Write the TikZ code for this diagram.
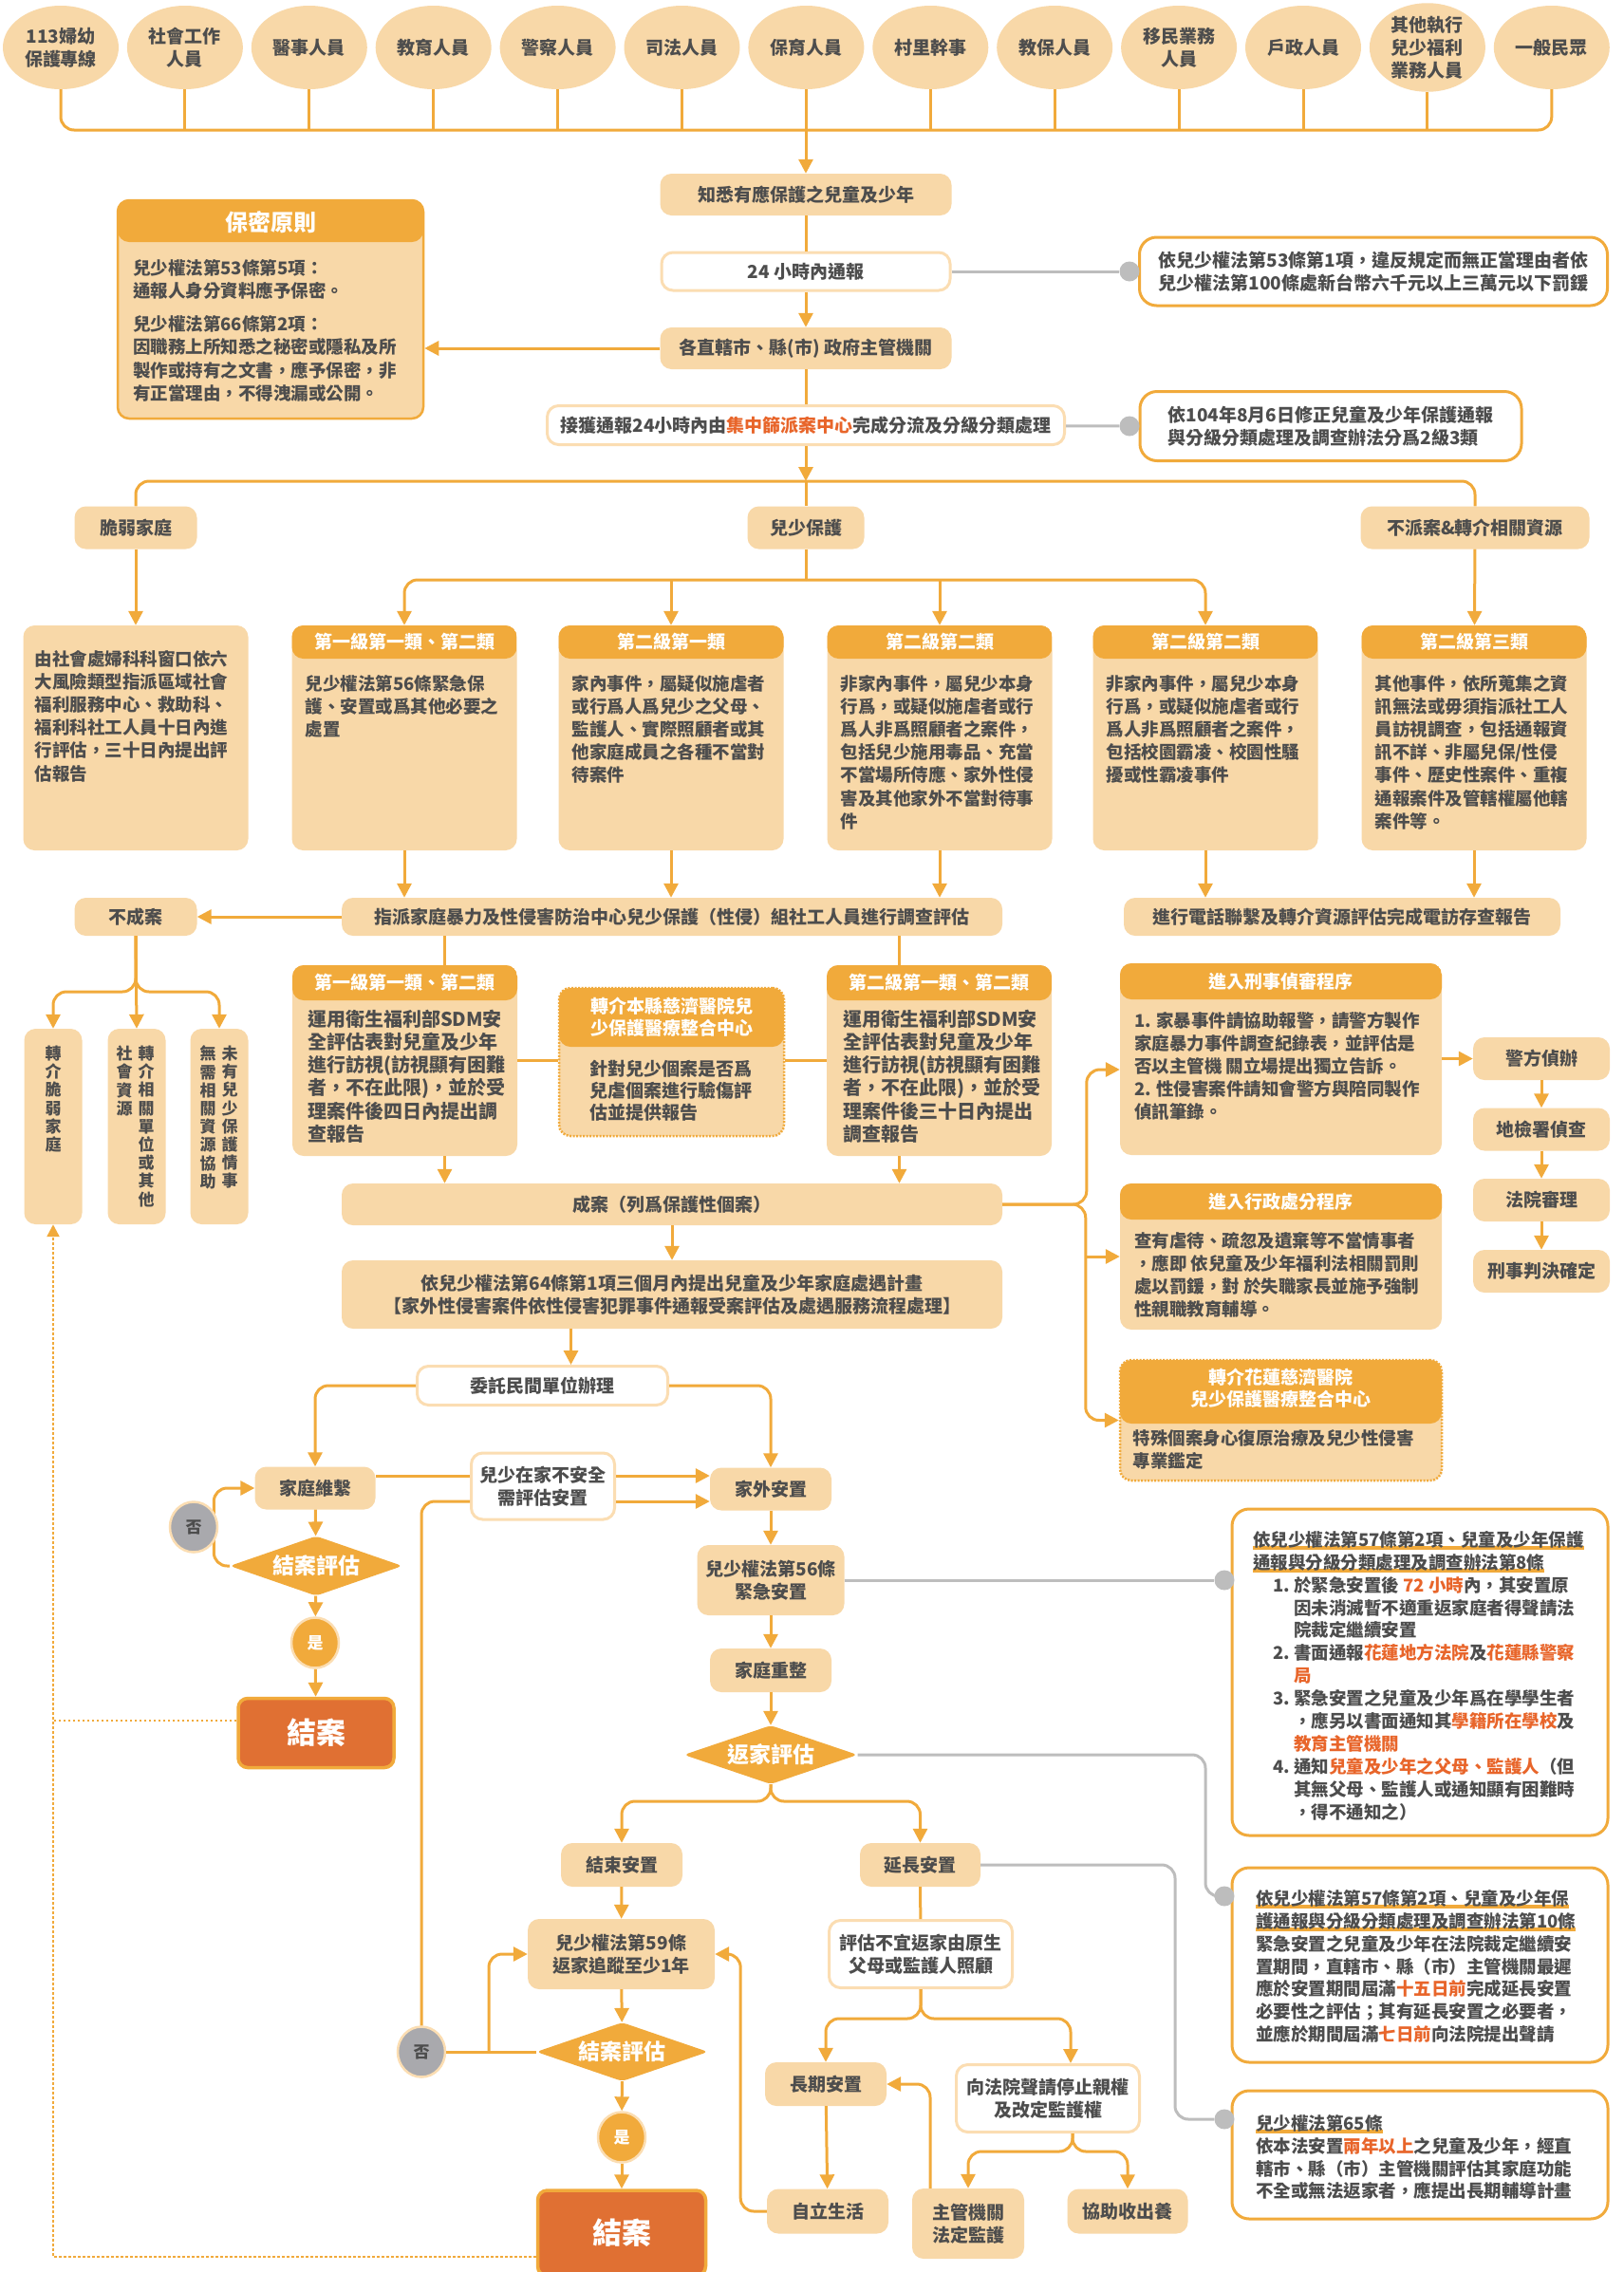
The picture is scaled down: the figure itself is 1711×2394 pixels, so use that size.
\documentclass[tikz,border=0pt]{standalone}
\usepackage{fontspec}
\setmainfont{Noto Sans CJK TC}
\usetikzlibrary{arrows.meta,shapes.geometric,positioning}

% Colores
\definecolor{melocoton}{HTML}{F8D8A8}
\definecolor{naranja}{HTML}{F1AA3B}
\definecolor{texto}{HTML}{4D4D4D}
\definecolor{rojo}{HTML}{E8652A}
\definecolor{cierre}{HTML}{E07033}
\definecolor{gris}{HTML}{BDBDBD}
\definecolor{grisosc}{HTML}{A9A9AD}
\definecolor{borde}{HTML}{FBDDB2}

% Fuentes
\newcommand{\fcaja}{\fontsize{19}{24}\selectfont\bfseries}
\newcommand{\fcuerpo}{\fontsize{18.5}{24.2}\selectfont\bfseries}
\newcommand{\fmedio}{\fontsize{20}{24.2}\selectfont\bfseries}
\newcommand{\fley}{\fontsize{18.5}{23.9}\selectfont\bfseries}
\newcommand{\fvert}{\fontsize{17}{19.2}\selectfont\bfseries}
\newcommand{\frombo}{\fontsize{23}{26}\selectfont\bfseries}
\newcommand{\ffin}{\fontsize{31}{34}\selectfont\bfseries}
\newcommand{\fsino}{\fontsize{17}{20}\selectfont\bfseries}
\newcommand{\ftitulo}{\fontsize{24}{28}\selectfont\bfseries}

% Resaltado y subrayado
\newcommand{\rj}[1]{\textcolor{rojo}{#1}}
\newcommand{\subr}[1]{\setbox0\hbox{#1}\rlap{\textcolor{naranja}{\rule[-4pt]{\wd0}{4pt}}}\box0}

\begin{document}
\begin{tikzpicture}[x=1pt, y=-1pt,
  conn/.style={draw=naranja, line width=3pt, rounded corners=14pt},
  flecha/.style={conn, -{Triangle[length=15pt,width=15pt]}},
  gconn/.style={draw=gris, line width=3pt, rounded corners=14pt},
  punteado/.style={draw=naranja, line width=2.5pt, dash pattern=on 2.5pt off 2.5pt},
  caja/.style={rectangle, rounded corners=12pt, fill=melocoton, text=texto, font=\fcaja, align=center, inner sep=0pt},
  blanca/.style={caja, fill=white, draw=borde, line width=3pt},
  cabeza/.style={caja, path picture={\fill[naranja] (path picture bounding box.north west) rectangle ([yshift=-#1]path picture bounding box.north east);}},
  marco/.style={draw=naranja, line width=2.5pt, dash pattern=on 2pt off 1.5pt},
  circulo/.style={ellipse, fill=melocoton, text=texto, font=\fcaja, align=center, inner sep=0pt, minimum width=122pt, minimum height=88pt},
  rombo/.style={diamond, shape aspect=2.9, fill=naranja, text=white, font=\frombo, inner sep=0pt, rounded corners=5pt},
  sicirc/.style={ellipse, fill=naranja, draw=borde, line width=2.5pt, text=white, font=\fsino, minimum width=50pt, minimum height=53pt, inner sep=0pt},
  nocirc/.style={sicirc, fill=grisosc, text=texto},
  cierrecaja/.style={rectangle, rounded corners=10pt, fill=cierre, draw=naranja, line width=3.5pt, text=white, font=\ffin},
  ley/.style={rectangle, rounded corners=18pt, draw=naranja, line width=3pt, fill=white},
  punto/.style={circle, fill=gris, minimum size=21pt, inner sep=0pt},
  tcab/.style={text=white, font=\fcaja, inner sep=0pt, align=center},
  tcuerpo/.style={text=texto, font=\fcuerpo, inner sep=0pt, align=left, anchor=north west},
  tley/.style={text=texto, font=\fley, inner sep=0pt, align=left, anchor=north west},
  tvert/.style={text=texto, font=\fvert, inner sep=0pt, align=center, anchor=north}]

  % Fondo
  \useasboundingbox (0,0) rectangle (1711,2394);
  \fill[white] (0,0) rectangle (1711,2394);

  % Notificadores
  \foreach \t [count=\i] in {{113婦幼\\保護專線},{社會工作\\人員},醫事人員,教育人員,警察人員,司法人員,保育人員,村里幹事,教保人員,{移民業務\\人員},戶政人員,{其他執行\\兒少福利\\業務人員},一般民眾}
    \node[circulo] (p\i) at ({64+130.9*(\i-1)},50) {\t};
  \coordinate (bus) at (849,137);
  \draw[conn] (p1.south) |- (bus) -| (p13.south);
  \foreach \i in {2,...,12}
    \draw[conn] (p\i.south) -- (p\i.south |- bus);

  % Flujo principal
  \node[caja, minimum width=307pt, minimum height=44pt] (n1) at (849,205) {知悉有應保護之兒童及少年};
  \node[blanca, minimum width=304pt, minimum height=40pt] (n2) at (849,286) {24 小時內通報};
  \node[caja, minimum width=307pt, minimum height=44pt] (n3) at (849,367) {各直轄市、縣(市) 政府主管機關};
  \node[blanca, minimum width=545pt, minimum height=41pt] (n4) at (849,448) {接獲通報24小時內由\rj{集中篩派案中心}完成分流及分級分類處理};
  \draw[flecha] (bus) -- (n1);
  \draw[conn] (n1) -- (n2);
  \draw[flecha] (n2) -- (n3);
  \draw[conn] (n3) -- (n4);

  % Confidencialidad
  \node[cabeza=44pt, draw=naranja, line width=2.5pt, minimum width=322pt, minimum height=230pt] (sec) at (285,326) {};
  \node[tcab, font=\ftitulo] (sech) at (285,234) {保密原則};
  \node[tcuerpo] (secb) at (140,273) {兒少權法第53條第5項：\\通報人身分資料應予保密。\\[11pt]兒少權法第66條第2項：\\因職務上所知悉之秘密或隱私及所\\製作或持有之文書，應予保密，非\\有正當理由，不得洩漏或公開。};
  \draw[flecha] (n3.west) -- (n3.west -| sec.east);

  % Normas de arriba
  \node[ley, minimum width=493pt, minimum height=72pt, font=\fcaja, text=texto, align=left] (l1) at (1447,286) {依兒少權法第53條第1項，違反規定而無正當理由者依\\兒少權法第100條處新台幣六千元以上三萬元以下罰鍰};
  \node[ley, minimum width=402pt, minimum height=73pt, font=\fcaja, text=texto, align=left] (l2) at (1402,449) {依104年8月6日修正兒童及少年保護通報\\與分級分類處理及調查辦法分爲2級3類};
  \node[punto] (d1) at (1190,286) {};
  \node[punto] (d2) at (1190,449) {};
  \draw[gconn] (n2) -- (d1);
  \draw[gconn] (n4) -- (d2);

  % Ramas
  \coordinate (b2) at (849,507);
  \coordinate (b3) at (849,611);
  \node[caja, minimum width=129pt, minimum height=45pt] (r1) at (143,556) {脆弱家庭};
  \node[caja, minimum width=123pt, minimum height=45pt] (r2) at (849,556) {兒少保護};
  \node[caja, minimum width=241pt, minimum height=45pt] (r3) at (1554,556) {不派案\&轉介相關資源};
  \draw[flecha] (n4) -- (b2);
  \draw[conn] (r1.north) |- (b2) -| (r3.north);
  \draw[conn] (b2) -- (r2);
  \draw[conn] (r2) -- (b3);

  % Categorias
  \node[caja, minimum width=237pt, minimum height=237pt] (c0) at (143,777.5) {};
  \node[cabeza=35pt, minimum width=237pt, minimum height=237pt] (c1) at (426,777.5) {};
  \node[cabeza=35pt, minimum width=237pt, minimum height=237pt] (c2) at (707,777.5) {};
  \node[cabeza=35pt, minimum width=237pt, minimum height=237pt] (c3) at (990,777.5) {};
  \node[cabeza=35pt, minimum width=237pt, minimum height=237pt] (c4) at (1270,777.5) {};
  \node[cabeza=35pt, minimum width=237pt, minimum height=237pt] (c5) at (1553,777.5) {};
  \node[tcuerpo] (c0b) at ([xshift=12pt,yshift=-26pt]c0.north west) {由社會處婦科科窗口依六\\大風險類型指派區域社會\\福利服務中心、救助科、\\福利科社工人員十日內進\\行評估，三十日內提出評\\估報告};
  \node[tcab] (c1h) at ([yshift=-17.5pt]c1.north) {第一級第一類、第二類};
  \node[tcuerpo] (c1b) at ([xshift=14pt,yshift=-52pt]c1.north west) {兒少權法第56條緊急保\\護、安置或爲其他必要之\\處置};
  \node[tcab] (c2h) at ([yshift=-17.5pt]c2.north) {第二級第一類};
  \node[tcuerpo] (c2b) at ([xshift=14pt,yshift=-52pt]c2.north west) {家內事件，屬疑似施虐者\\或行爲人爲兒少之父母、\\監護人、實際照顧者或其\\他家庭成員之各種不當對\\待案件};
  \node[tcab] (c3h) at ([yshift=-17.5pt]c3.north) {第二級第二類};
  \node[tcuerpo] (c3b) at ([xshift=14pt,yshift=-52pt]c3.north west) {非家內事件，屬兒少本身\\行爲，或疑似施虐者或行\\爲人非爲照顧者之案件，\\包括兒少施用毒品、充當\\不當場所侍應、家外性侵\\害及其他家外不當對待事\\件};
  \node[tcab] (c4h) at ([yshift=-17.5pt]c4.north) {第二級第二類};
  \node[tcuerpo] (c4b) at ([xshift=14pt,yshift=-52pt]c4.north west) {非家內事件，屬兒少本身\\行爲，或疑似施虐者或行\\爲人非爲照顧者之案件，\\包括校園霸凌、校園性騷\\擾或性霸凌事件};
  \node[tcab] (c5h) at ([yshift=-17.5pt]c5.north) {第二級第三類};
  \node[tcuerpo] (c5b) at ([xshift=14pt,yshift=-52pt]c5.north west) {其他事件，依所蒐集之資\\訊無法或毋須指派社工人\\員訪視調查，包括通報資\\訊不詳、非屬兒保/性侵\\事件、歷史性案件、重複\\通報案件及管轄權屬他轄\\案件等。};
  \draw[flecha] (b3) -| (c1.north);
  \draw[flecha] (b3) -| (c4.north);
  \draw[flecha] (c2.north |- b3) -- (c2.north);
  \draw[flecha] (c3.north |- b3) -- (c3.north);
  \draw[flecha] (r1) -- (c0);
  \draw[flecha] (r3) -- (c5);

  % Investigacion
  \node[caja, minimum width=696pt, minimum height=40pt] (m0) at (708,966) {指派家庭暴力及性侵害防治中心兒少保護（性侵）組社工人員進行調查評估};
  \node[caja, minimum width=129pt, minimum height=40pt] (nc) at (143,966) {不成案};
  \node[caja, minimum width=460pt, minimum height=40pt] (tel) at (1414,966) {進行電話聯繫及轉介資源評估完成電訪存查報告};
  \foreach \c in {c1,c2,c3}
    \draw[flecha] (\c.south) -- (\c.south |- m0.north);
  \foreach \c in {c4,c5}
    \draw[flecha] (\c.south) -- (\c.south |- tel.north);
  \draw[flecha] (m0) -- (nc);

  % No se abre caso
  \node[caja, minimum width=61pt, minimum height=206pt] (v1) at (56,1187) {};
  \node[caja, minimum width=61pt, minimum height=206pt] (v2) at (144,1187) {};
  \node[caja, minimum width=61pt, minimum height=206pt] (v3) at (231,1187) {};
  \node[tvert] (v1t) at ([yshift=-18pt]v1.north) {轉\\介\\脆\\弱\\家\\庭};
  \node[tvert] (v2a) at ([xshift=10pt,yshift=-18pt]v2.north) {轉\\介\\相\\關\\單\\位\\或\\其\\他};
  \node[tvert] (v2b) at ([xshift=-13pt,yshift=-18pt]v2.north) {社\\會\\資\\源};
  \node[tvert] (v3a) at ([xshift=11pt,yshift=-18pt]v3.north) {未\\有\\兒\\少\\保\\護\\情\\事};
  \node[tvert] (v3b) at ([xshift=-12pt,yshift=-18pt]v3.north) {無\\需\\相\\關\\資\\源\\協\\助};
  \draw[flecha] (nc.south) |- (v1.north |- 0,1045) -- (v1.north);
  \draw[flecha] (nc.south) |- (v3.north |- 0,1045) -- (v3.north);
  \draw[flecha] (nc.south) -- (v2.north);

  % Evaluacion
  \node[cabeza=37pt, minimum width=237pt, minimum height=201pt] (ma) at (426.5,1117.5) {};
  \node[cabeza=62pt, marco, minimum width=237pt, minimum height=156pt] (mb) at (707.5,1119) {};
  \node[cabeza=37pt, minimum width=237pt, minimum height=201pt] (mc) at (989.5,1117.5) {};
  \node[tcab] (mah) at ([yshift=-18.5pt]ma.north) {第一級第一類、第二類};
  \node[tcuerpo, font=\fmedio] (mab) at ([xshift=16pt,yshift=-47pt]ma.north west) {運用衛生福利部SDM安\\全評估表對兒童及少年\\進行訪視(訪視顯有困難\\者，不在此限)，並於受\\理案件後四日內提出調\\查報告};
  \node[tcab, font=\fontsize{19}{23}\selectfont\bfseries] (mbh) at ([yshift=-32pt]mb.north) {轉介本縣慈濟醫院兒\\少保護醫療整合中心};
  \node[tcuerpo, font=\fontsize{19}{23}\selectfont\bfseries] (mbb) at ([xshift=34pt,yshift=-77pt]mb.north west) {針對兒少個案是否爲\\兒虐個案進行驗傷評\\估並提供報告};
  \node[tcab] (mch) at ([yshift=-18.5pt]mc.north) {第二級第一類、第二類};
  \node[tcuerpo, font=\fmedio] (mcb) at ([xshift=17pt,yshift=-47pt]mc.north west) {運用衛生福利部SDM安\\全評估表對兒童及少年\\進行訪視(訪視顯有困難\\者，不在此限)，並於受\\理案件後三十日內提出\\調查報告};
  \draw[conn] (ma.east) -- (ma.east -| mb.west);
  \draw[conn] (mb.east |- mc.west) -- (mc.west);
  \draw[conn] ([xshift=42pt]ma.north) -- ([xshift=42pt]ma.north |- m0.south);
  \draw[conn] ([xshift=-42pt]mc.north) -- ([xshift=-42pt]mc.north |- m0.south);

  % Caso abierto
  \node[caja, minimum width=696pt, minimum height=44pt] (ca) at (708,1269) {成案（列爲保護性個案）};
  \node[caja, minimum width=696pt, minimum height=72pt] (p64) at (708,1364) {依兒少權法第64條第1項三個月內提出兒童及少年家庭處遇計畫\\【家外性侵害案件依性侵害犯罪事件通報受案評估及處遇服務流程處理】};
  \draw[flecha] ([xshift=42pt]ma.south) -- ([xshift=42pt]ma.south |- ca.north);
  \draw[flecha] ([xshift=-42pt]mc.south) -- ([xshift=-42pt]mc.south |- ca.north);
  \draw[flecha] (ca) -- (p64);

  % Procesos penal y administrativo
  \node[cabeza=38pt, minimum width=339pt, minimum height=202pt] (xs) at (1349.5,1116) {};
  \node[cabeza=38pt, minimum width=339pt, minimum height=154pt] (xz) at (1349.5,1324) {};
  \node[cabeza=67pt, marco, minimum width=339pt, minimum height=127pt] (hl) at (1349.5,1496.5) {};
  \node[tcab] (xsh) at ([yshift=-19pt]xs.north) {進入刑事偵審程序};
  \node[tcuerpo] (xsb) at ([xshift=15pt,yshift=-51pt]xs.north west) {1. 家暴事件請協助報警，請警方製作\\家庭暴力事件調查紀錄表，並評估是\\否以主管機 關立場提出獨立告訴。\\2. 性侵害案件請知會警方與陪同製作\\偵訊筆錄。};
  \node[tcab] (xzh) at ([yshift=-19pt]xz.north) {進入行政處分程序};
  \node[tcuerpo] (xzb) at ([xshift=15pt,yshift=-51pt]xz.north west) {查有虐待、疏忽及遺棄等不當情事者\\，應即 依兒童及少年福利法相關罰則\\處以罰鍰，對 於失職家長並施予強制\\性親職教育輔導。};
  \node[tcab, font=\fontsize{19}{23}\selectfont\bfseries] (hlh) at ([yshift=-31pt]hl.north) {轉介花蓮慈濟醫院\\兒少保護醫療整合中心};
  \node[tcuerpo] (hlb) at ([xshift=15pt,yshift=-74pt]hl.north west) {特殊個案身心復原治療及兒少性侵害\\專業鑑定};
  \node[caja, minimum width=144pt, minimum height=45pt] (k1) at (1624,1115.5) {警方偵辦};
  \node[caja, minimum width=144pt, minimum height=45pt] (k2) at (1624,1190) {地檢署偵查};
  \node[caja, minimum width=144pt, minimum height=45pt] (k3) at (1624,1264.5) {法院審理};
  \node[caja, minimum width=144pt, minimum height=45pt] (k4) at (1624,1339.5) {刑事判決確定};
  \draw[flecha] (xs.east |- k1) -- (k1);
  \draw[flecha] (k1) -- (k2);
  \draw[flecha] (k2) -- (k3);
  \draw[flecha] (k3) -- (k4);
  \draw[flecha] (ca.east) -| ([xshift=-35pt,yshift=-11pt]xs.west) -- ([yshift=-11pt]xs.west);
  \draw[flecha] (ca.east) -| ([xshift=-35pt]hl.west) -- (hl.west);
  \draw[flecha] ([xshift=-35pt]xz.west) -- (xz.west);

  % Servicios
  \node[blanca, minimum width=264pt, minimum height=41pt] (wt) at (571.5,1460) {委託民間單位辦理};
  \draw[flecha] ([xshift=30pt]wt.north |- p64.south) -- ([xshift=30pt]wt.north);
  \node[caja, minimum width=127pt, minimum height=45pt] (hw) at (332,1568) {家庭維繫};
  \node[blanca, minimum width=151pt, minimum height=70pt] (ax) at (572,1566) {兒少在家不安全\\需評估安置};
  \node[caja, minimum width=128pt, minimum height=45pt] (jw) at (812,1569) {家外安置};
  \node[caja, minimum width=155pt, minimum height=74pt] (s56) at (812,1665) {兒少權法第56條\\緊急安置};
  \node[caja, minimum width=128pt, minimum height=46pt] (cz) at (812,1760) {家庭重整};
  \node[rombo, minimum width=183pt, minimum height=62pt] (fp) at (812,1849) {返家評估};
  \node[rombo, minimum width=182pt, minimum height=63pt] (jp1) at (333,1650) {結案評估};
  \node[sicirc] (si1) at (332,1731) {是};
  \node[cierrecaja, minimum width=164pt, minimum height=73pt] (end1) at (333,1826) {結案};
  \draw[flecha] (wt.west) -| (hw.north);
  \draw[flecha] (wt.east) -| (jw.north);
  \draw[conn] (hw.east |- 0,1555) -- (ax.west |- 0,1555);
  \draw[flecha] (ax.east |- 0,1555) -- (jw.west |- 0,1555);
  \draw[flecha] (ax.east |- 0,1582) -- (jw.west |- 0,1582);
  \draw[flecha] (jw) -- (s56);
  \draw[flecha] (s56) -- (cz);
  \draw[flecha] (cz) -- (fp);
  \draw[flecha] (hw) -- (jp1);
  \draw[flecha] (jp1) -- (si1);
  \draw[flecha] (si1) -- (end1);
  \draw[flecha] (jp1.west) -| ([xshift=-43pt]hw.west) -- (hw.west);
  \node[nocirc] (no1) at (204,1609) {否};

  % Regreso al hogar
  \node[caja, minimum width=128pt, minimum height=46pt] (js) at (655,1965) {結束安置};
  \node[caja, minimum width=127pt, minimum height=46pt] (yc) at (969.5,1965) {延長安置};
  \node[caja, minimum width=197pt, minimum height=74pt] (s59) at (654.5,2059) {兒少權法第59條\\返家追蹤至少1年};
  \node[blanca, minimum width=193pt, minimum height=71pt] (bg) at (970,2059) {評估不宜返家由原生\\父母或監護人照顧};
  \node[rombo, minimum width=181pt, minimum height=62pt] (jp2) at (655.5,2162) {結案評估};
  \node[nocirc] (no2) at (444,2162) {否};
  \node[sicirc] (si2) at (655,2252) {是};
  \node[cierrecaja, minimum width=177pt, minimum height=90pt] (end2) at (655,2353) {結案};
  \node[caja, minimum width=128pt, minimum height=46pt] (cq) at (870,2196) {長期安置};
  \node[blanca, minimum width=193pt, minimum height=71pt] (fy) at (1104,2211) {向法院聲請停止親權\\及改定監護權};
  \node[caja, minimum width=128pt, minimum height=47pt] (zl) at (872,2330) {自立生活};
  \node[caja, minimum width=118pt, minimum height=74pt] (zg) at (1020,2343) {主管機關\\法定監護};
  \node[caja, minimum width=127pt, minimum height=47pt] (sy) at (1188,2330) {協助收出養};
  \draw[flecha] (fp.south) |- (js.north |- 0,1898) -- (js.north);
  \draw[flecha] (fp.south) |- (yc.north |- 0,1898) -- (yc.north);
  \draw[flecha] (js) -- (s59);
  \draw[flecha] (s59) -- (jp2);
  \draw[flecha] (jp2) -- (si2);
  \draw[flecha] (si2) -- (end2);
  \draw[conn] (jp2.west) -- (no2.east);
  \draw[flecha] (jp2.west -| 515,0) |- (s59.west);
  \draw[conn] (no2.north) |- (ax.west |- 0,1582);
  \draw[conn] (yc) -- (bg);
  \draw[flecha] (bg.south) |- (cq.north |- 0,2127) -- (cq.north);
  \draw[flecha] (bg.south) |- ([xshift=24pt]fy.north |- 0,2127) -- ([xshift=24pt]fy.north);
  \draw[flecha] (cq) -- (zl);
  \draw[flecha] ([xshift=26pt]fy.south) |- (zg.north |- 0,2267) -- (zg.north);
  \draw[flecha] ([xshift=26pt]fy.south) |- (sy.north |- 0,2267) -- (sy.north);
  \draw[flecha] ([xshift=-40pt]zg.north) |- (cq.east);
  \draw[flecha] (zl.west) -| ([xshift=27pt]s59.east) -- (s59.east);

  % Cierre hacia familias vulnerables
  \draw[punteado] ([yshift=13pt]end1.west) -- ([yshift=13pt]end1.west -| v1.south);
  \draw[punteado, -{Triangle[length=13pt,width=13pt]}] ([yshift=-25pt]end2.west) -| (v1.south);

  % Normas de colocacion
  \node[ley, minimum width=396pt, minimum height=344pt] (la) at (1496,1762) {};
  \node[ley, minimum width=396pt, minimum height=205pt] (lb) at (1496,2070.5) {};
  \node[ley, minimum width=396pt, minimum height=135pt] (lc) at (1496,2270.5) {};
  \node[tley] (lat) at (1320,1613) {\subr{依兒少權法第57條第2項、兒童及少年保護}\\
    \subr{通報與分級分類處理及調查辦法第8條}\\
    \hspace*{21pt}\makebox[22pt][l]{1.}於緊急安置後 \rj{72 小時}內，其安置原\\
    \hspace*{43pt}因未消滅暫不適重返家庭者得聲請法\\
    \hspace*{43pt}院裁定繼續安置\\
    \hspace*{21pt}\makebox[22pt][l]{2.}書面通報\rj{花蓮地方法院}及\rj{花蓮縣警察}\\
    \hspace*{43pt}\rj{局}\\
    \hspace*{21pt}\makebox[22pt][l]{3.}緊急安置之兒童及少年爲在學學生者\\
    \hspace*{43pt}，應另以書面通知其\rj{學籍所在學校}及\\
    \hspace*{43pt}\rj{教育主管機關}\\
    \hspace*{21pt}\makebox[22pt][l]{4.}通知\rj{兒童及少年之父母、監護人}（但\\
    \hspace*{43pt}其無父母、監護人或通知顯有困難時\\
    \hspace*{43pt}，得不通知之）};
  \node[tley] (lbt) at (1323,1991) {\subr{依兒少權法第57條第2項、兒童及少年保}\\
    \subr{護通報與分級分類處理及調查辦法第10條}\\
    緊急安置之兒童及少年在法院裁定繼續安\\
    置期間，直轄市、縣（市）主管機關最遲\\
    應於安置期間屆滿\rj{十五日前}完成延長安置\\
    必要性之評估；其有延長安置之必要者，\\
    並應於期間屆滿\rj{七日前}向法院提出聲請};
  \node[tley] (lct) at (1323,2228) {\subr{兒少權法第65條}\\
    依本法安置\rj{兩年以上}之兒童及少年，經直\\
    轄市、縣（市）主管機關評估其家庭功能\\
    不全或無法返家者，應提出長期輔導計畫};
  \node[punto] (d3) at (1290,1665) {};
  \node[punto] (d4) at (1290,1998) {};
  \node[punto] (d5) at (1290,2233) {};
  \draw[gconn] (s56) -- (d3);
  \draw[gconn] (fp.east) -| ([xshift=-20pt]d4.center) -- (d4);
  \draw[gconn] (yc.east) -| ([xshift=-52pt]d5.center) -- (d5);
\end{tikzpicture}
\end{document}
